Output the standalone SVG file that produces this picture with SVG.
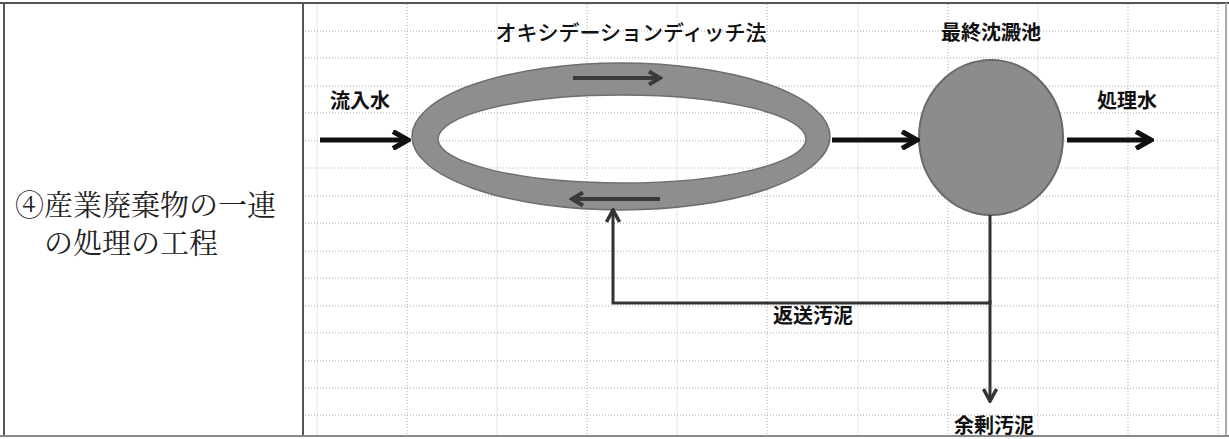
<svg xmlns="http://www.w3.org/2000/svg" width="1229" height="439" viewBox="0 0 1229 439">
<style>
.bg{fill:#ffffff}
.border{stroke:#555;stroke-width:2;fill:none}
.grid{stroke:#a8a8a8;stroke-width:1;stroke-dasharray:1 2;fill:none}
.gridl{stroke:#e6e6e6;stroke-width:1;fill:none}
.lbl{font-family:"Noto Sans CJK JP","Noto Sans CJK SC",sans-serif;font-weight:700;font-size:20px;fill:#111}
.ttl{font-family:"Noto Sans CJK JP","Noto Sans CJK SC",sans-serif;font-weight:500;font-size:21px;fill:#111}
.side{font-family:"Noto Serif CJK JP","Noto Sans CJK JP","Noto Sans CJK SC",serif;font-weight:400;font-size:29px;fill:#222}
.ring{fill:#8e8e8e;fill-rule:evenodd;stroke:#6e6e6e;stroke-width:1.5}
.tank{fill:#8c8c8c;stroke:#6a6a6a;stroke-width:2}
.thick{stroke:#111;stroke-width:5;fill:none}
.inner{stroke:#3a3a3a;stroke-width:4;fill:none}
.ret{stroke:#333;stroke-width:3;fill:none}
</style>
<defs>
<marker id="ahBig" markerUnits="userSpaceOnUse" viewBox="0 0 20 20" refX="17" refY="10" markerWidth="20" markerHeight="20" orient="auto">
<path d="M2,1.5 L17,10 L2,18.5" fill="none" stroke="#111" stroke-width="5"/>
</marker>
<marker id="ahIn" markerUnits="userSpaceOnUse" viewBox="0 0 16 16" refX="13" refY="8" markerWidth="16" markerHeight="16" orient="auto">
<path d="M2,1.5 L13,8 L2,14.5" fill="none" stroke="#3a3a3a" stroke-width="4"/>
</marker>
<marker id="ahRet" markerUnits="userSpaceOnUse" viewBox="0 0 16 16" refX="14" refY="8" markerWidth="16" markerHeight="16" orient="auto">
<path d="M2,1.5 L14,8 L2,14.5" fill="none" stroke="#333" stroke-width="3.5"/>
</marker>
</defs>
<rect class="bg" x="0" y="0" width="1229" height="439"/>
<g id="grid">
<g class="gridl">
<line x1="497" y1="4" x2="497" y2="435"/>
<line x1="677" y1="4" x2="677" y2="435"/>
<line x1="858" y1="4" x2="858" y2="435"/>
<line x1="1038" y1="4" x2="1038" y2="435"/>
<line x1="317" y1="4" x2="317" y2="435"/>
</g>
<g class="grid">
<line x1="305" y1="31" x2="1220" y2="31"/>
<line x1="305" y1="58" x2="1220" y2="58"/>
<line x1="305" y1="86" x2="1220" y2="86"/>
<line x1="305" y1="113" x2="1220" y2="113"/>
<line x1="305" y1="141" x2="1220" y2="141"/>
<line x1="305" y1="168" x2="1220" y2="168"/>
<line x1="305" y1="196" x2="1220" y2="196"/>
<line x1="305" y1="223" x2="1220" y2="223"/>
<line x1="305" y1="251" x2="1220" y2="251"/>
<line x1="305" y1="278" x2="1220" y2="278"/>
<line x1="305" y1="306" x2="1220" y2="306"/>
<line x1="305" y1="333" x2="1220" y2="333"/>
<line x1="305" y1="361" x2="1220" y2="361"/>
<line x1="305" y1="388" x2="1220" y2="388"/>
<line x1="305" y1="415" x2="1220" y2="415"/>
<line x1="407" y1="4" x2="407" y2="435"/>
<line x1="587" y1="4" x2="587" y2="435"/>
<line x1="767" y1="4" x2="767" y2="435"/>
<line x1="948" y1="4" x2="948" y2="435"/>
<line x1="1128" y1="4" x2="1128" y2="435"/>
<line x1="1218" y1="4" x2="1218" y2="435"/>
</g>
</g>
<g id="table-border" class="border">
<line x1="0" y1="3" x2="1229" y2="3"/>
<line x1="4" y1="3" x2="4" y2="436"/>
<line x1="303" y1="3" x2="303" y2="436"/>
<line x1="1226" y1="3" x2="1226" y2="436" stroke="#aaa"/>
<line x1="0" y1="436" x2="1229" y2="436" stroke="#888"/>
</g>
<g id="side-label">
<text class="side" x="15" y="216">④産業廃棄物の一連</text>
<text class="side" x="44" y="254">の処理の工程</text>
</g>
<g id="oxidation-ditch">
<path class="ring" d="M412,136.5 A209,73.5 0 1,0 830,136.5 A209,73.5 0 1,0 412,136.5 Z M438,139 A184,44 0 1,0 806,139 A184,44 0 1,0 438,139 Z"/>
<text class="ttl" x="631" y="40" text-anchor="middle">オキシデーションディッチ法</text>
</g>
<g id="final-clarifier">
<ellipse class="tank" cx="991" cy="137.5" rx="72" ry="77.5"/>
<text class="lbl" x="991" y="40" text-anchor="middle">最終沈澱池</text>
</g>
<g id="inflow"><text class="lbl" x="360" y="108" text-anchor="middle">流入水</text></g>
<g id="treated"><text class="lbl" x="1127" y="108" text-anchor="middle">処理水</text></g>
<g id="return-label"><text class="lbl" x="813" y="323" text-anchor="middle">返送汚泥</text></g>
<g id="excess"><text class="lbl" x="994" y="433" text-anchor="middle">余剰汚泥</text></g>
<g id="connectors">
<line class="thick" x1="320" y1="140" x2="408" y2="140" marker-end="url(#ahBig)"/>
<line class="thick" x1="832" y1="140" x2="917" y2="140" marker-end="url(#ahBig)"/>
<line class="thick" x1="1067" y1="140" x2="1151" y2="140" marker-end="url(#ahBig)"/>
<line class="inner" x1="573" y1="78" x2="660" y2="78" marker-end="url(#ahIn)"/>
<line class="inner" x1="660" y1="199" x2="572" y2="199" marker-end="url(#ahIn)"/>
<polyline class="ret" points="990,215 990,303 613,303 613,210" marker-end="url(#ahRet)"/>
<line class="ret" x1="990" y1="300" x2="990" y2="401" marker-end="url(#ahRet)"/>
</g>
</svg>
